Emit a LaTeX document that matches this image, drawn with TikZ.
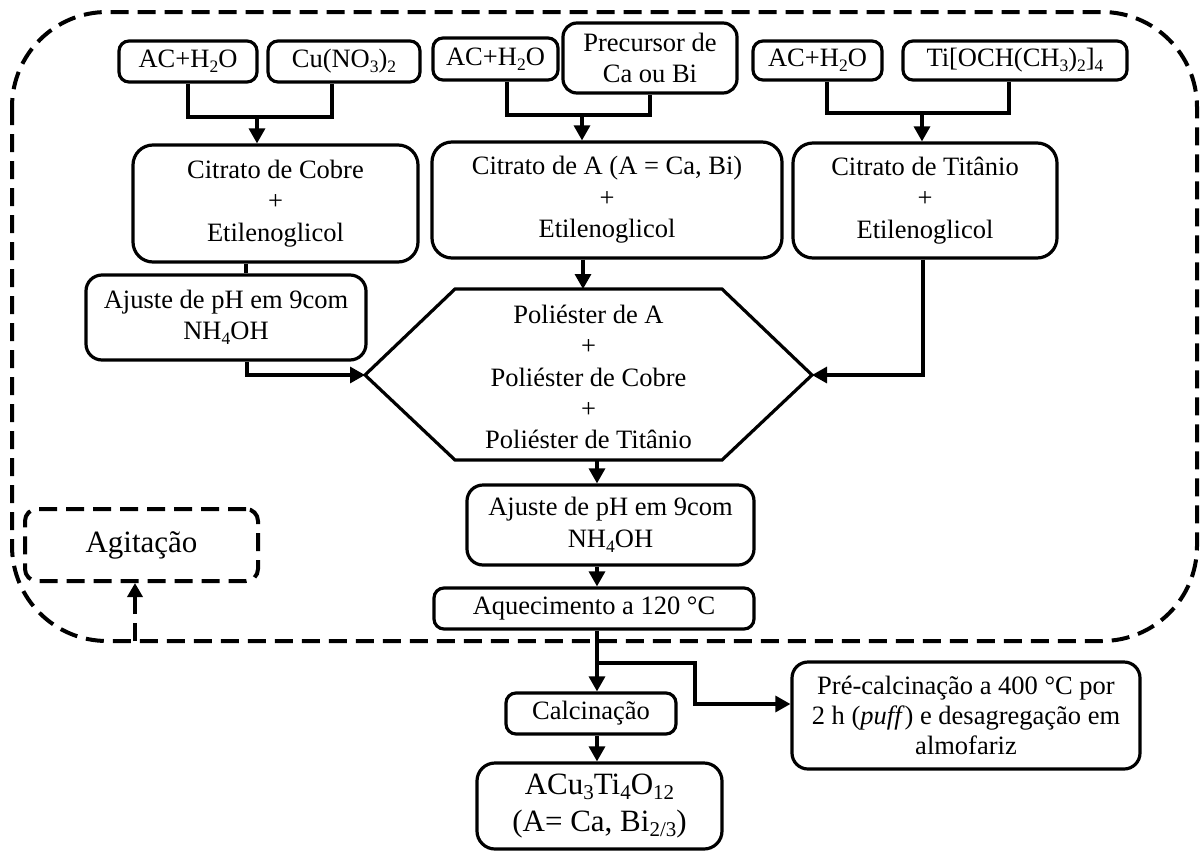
\documentclass[tikz,border=0pt]{standalone}
\usepackage{fontspec}
\setmainfont{Liberation Serif}
\usetikzlibrary{arrows.meta}
\newcommand\sbx[1]{\raisebox{-0.19em}{\fontsize{17.5}{17.5}\selectfont #1}}
\newcommand\sbl[1]{\raisebox{-0.17em}{\fontsize{21}{21}\selectfont #1}}
\begin{document}
\begin{tikzpicture}[x=1pt,y=-1pt,
  box/.style={draw, line width=3.2pt, rounded corners=10pt, align=center, inner sep=0pt, font=\fontsize{26.5}{31.5}\selectfont},
  bigbox/.style={box, rounded corners=20pt},
  conn/.style={line width=3.2pt},
  arr/.style={conn, -{Triangle[length=15pt,width=16pt]}},
  dsh/.style={line width=4pt, dash pattern=on 18pt off 9pt},
]
\useasboundingbox (0,0) rectangle (1200,852);

% outer dashed region
\draw[dsh, rounded corners=95pt] (12,12) rectangle (1197,641);

% top row
\node[box, minimum width=138pt, minimum height=41pt] (ac1) at (188,61.5) {AC+H\sbx{2}O};
\node[box, minimum width=152pt, minimum height=41pt] (cu) at (344,61.5) {Cu(NO\sbx{3})\sbx{2}};
\node[box, minimum width=125pt, minimum height=42pt] (ac2) at (495.5,59) {AC+H\sbx{2}O};
\node[box, rounded corners=14pt, minimum width=174pt, minimum height=70pt] (prec) at (650,58) {Precursor de\\Ca ou Bi};
\node[box, minimum width=129pt, minimum height=39pt] (ac3) at (817.5,60.5) {AC+H\sbx{2}O};
\node[box, minimum width=224pt, minimum height=39pt] (ti) at (1015,60.5) {Ti[OCH(CH\sbx{3})\sbx{2}]\sbx{4}};

% citrates
\node[bigbox, minimum width=285pt, minimum height=117pt] (citCu) at (275.5,203.5) {Citrato de Cobre\\+\\Etilenoglicol};
\node[bigbox, minimum width=350pt, minimum height=116pt] (citA) at (607,200) {Citrato de A (A = Ca, Bi)\\+\\Etilenoglicol};
\node[bigbox, minimum width=264pt, minimum height=115pt] (citTi) at (925,200.5) {Citrato de Titânio\\+\\Etilenoglicol};

% pH adjust 1
\node[box, rounded corners=16pt, minimum width=280pt, minimum height=85pt] (aj1) at (226,317.5) {Ajuste de pH em 9com\\NH\sbx{4}OH};

% hexagon
\coordinate (hTL) at (455,289);
\coordinate (hTR) at (722,289);
\coordinate (hR) at (812,375);
\coordinate (hBR) at (722,460);
\coordinate (hBL) at (455,460);
\coordinate (hL) at (365,375);
\draw[conn, line join=miter] (hTL) -- (hTR) -- (hR) -- (hBR) -- (hBL) -- (hL) -- cycle;
\node[align=center, inner sep=0pt, font=\fontsize{26.5}{31.3}\selectfont] (hex) at (588.5,377) {Poliéster de A\\+\\Poliéster de Cobre\\+\\Poliéster de Titânio};

% lower chain
\node[box, rounded corners=16pt, minimum width=287pt, minimum height=80pt] (aj2) at (610.5,525) {Ajuste de pH em 9com\\NH\sbx{4}OH};
\node[box, minimum width=320pt, minimum height=41pt] (aq) at (594,608.5) {Aquecimento a 120 °C};
\node[box, minimum width=170pt, minimum height=41pt] (calc) at (591,713.5) {Calcinação};
\node[box, rounded corners=16pt, minimum width=348pt, minimum height=107pt, font=\fontsize{26.5}{30}\selectfont] (pre) at (966,715.5) {Pré-calcinação a 400 °C por\\2 h (\textit{puff}) e desagregação em\\almofariz};
\node[box, rounded corners=18pt, minimum width=245pt, minimum height=86pt, font=\fontsize{31}{37}\selectfont] (acu) at (599.5,806) {ACu\sbl{3}Ti\sbl{4}O\sbl{12}\\(A= Ca, Bi\sbl{2/3})};

% agitation
\node[box, dsh, rounded corners=12pt, minimum width=233pt, minimum height=72pt, font=\fontsize{31}{37}\selectfont] (agit) at (141.5,545) {Agitação};

% helper coordinates
\coordinate (j1) at (257,117);
\coordinate (k1) at (332,117);
\coordinate (j2) at (582,115);
\coordinate (k2a) at (507,115);
\coordinate (k2b) at (650,115);
\coordinate (j3) at (922,113);
\coordinate (k3a) at (827,113);
\coordinate (k3b) at (1009,113);
\coordinate (c246) at (246,0);
\coordinate (c247) at (247,0);
\coordinate (c583) at (583,0);
\coordinate (c597) at (597,0);
\coordinate (c923) at (923,0);
\coordinate (br) at (597,663);
\coordinate (bk) at (695,704);
\coordinate (ag0) at (135,641);

% top joins
\draw[conn] (ac1.south) |- (k1) -- (k1 |- cu.south);
\draw[arr] (j1) -- (j1 |- citCu.north);
\draw[conn] (k2a |- ac2.south) |- (k2b) -- (k2b |- prec.south);
\draw[arr] (j2) -- (j2 |- citA.north);
\draw[conn] (k3a |- ac3.south) |- (k3b) -- (k3b |- ti.south);
\draw[arr] (j3) -- (j3 |- citTi.north);

% citrates to hexagon
\draw[conn] (citCu.south -| c246) -- (aj1.north -| c246);
\draw[arr] (aj1.south -| c247) |- (hL);
\draw[arr] (citA.south -| c583) -- (hTL -| c583);
\draw[arr] (citTi.south -| c923) |- (hR);

% chain down
\draw[arr] (hBL -| c597) -- (aj2.north -| c597);
\draw[arr] (aj2.south -| c597) -- (aq.north -| c597);
\draw[arr] (aq.south -| c597) -- (calc.north -| c597);
\draw[arr] (br) -| (bk) -- (bk -| pre.west);
\draw[arr] (calc.south -| c597) -- (acu.north -| c597);

% agitation arrow
\draw[dsh, -{Triangle[length=14pt,width=15pt]}] (ag0) -- (ag0 |- agit.south);
\end{tikzpicture}
\end{document}
